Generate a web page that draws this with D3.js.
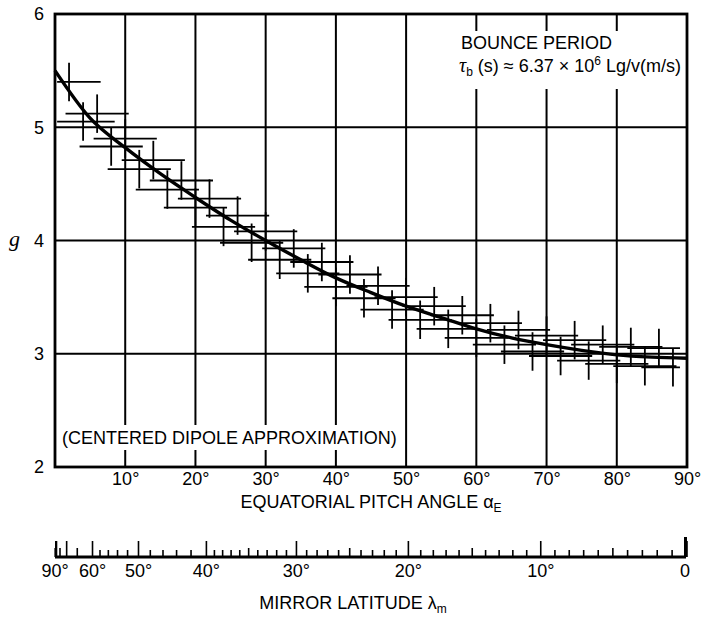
<!DOCTYPE html>
<html lang="en">
<head>
  <meta charset="UTF-8">
  <title>Bounce period factor g vs equatorial pitch angle</title>
  <style>
    body { margin: 0; background: #fff; }
    svg { display: block; font-family: "Liberation Sans", Arial, sans-serif; }
  </style>
</head>
<body>
  <svg id="chart"></svg>
  <script src="https://cdn.jsdelivr.net/npm/d3@7/dist/d3.min.js"></script>
  <script>
    var w = 701, h = 618;
    var plotL = 55, plotR = 687, plotT = 14, plotB = 467;

    var curveAlpha = [0, 5, 10, 15, 20, 25, 30, 35, 40, 45, 50, 55, 60, 65, 70, 75, 80, 85, 90];
    var curveG = [5.50, 5.08, 4.82, 4.59, 4.38, 4.18, 4.00, 3.83, 3.67, 3.54, 3.42, 3.32, 3.22, 3.14, 3.08, 3.03, 2.99, 2.97, 2.96];

    // the crosses (computed points with their spreads)
    var crossAlpha = [2, 4, 6, 8, 10, 12, 14, 16, 18, 20, 22, 24, 26, 28, 30, 32, 34, 36, 38, 40, 42, 44,
                      46, 48, 50, 52, 54, 56, 58, 60, 62, 64, 66, 68, 70, 72, 74, 76, 78, 80, 82, 84, 86, 88];
    var crossG = [5.40, 5.05, 5.12, 4.83, 4.90, 4.63, 4.71, 4.45, 4.53, 4.29, 4.37, 4.12, 4.22, 3.98, 4.08, 3.83,
                  3.93, 3.71, 3.81, 3.59, 3.70, 3.49, 3.60, 3.39, 3.50, 3.30, 3.42, 3.22, 3.34, 3.14, 3.27, 3.08,
                  3.21, 3.02, 3.16, 2.98, 3.12, 2.94, 3.08, 2.91, 3.06, 2.89, 3.05, 2.88];

    var gTicks = [2, 3, 4, 5, 6];
    var pitchTicks = [10, 20, 30, 40, 50, 60, 70, 80, 90];
    var latLabels = [90, 60, 50, 40, 30, 20, 10, 0];

    var svg = d3.select("#chart").attr("width", w).attr("height", h);

    var x = d3.scaleLinear().domain([0, 90]).range([plotL, plotR]);
    var y = d3.scaleLinear().domain([2, 6]).range([plotB, plotT]);

    // dipole field: mirror latitude -> equatorial pitch angle
    var rad = Math.PI / 180;
    function mirrorToPitch(lam) {
      var c = Math.cos(lam * rad), s = Math.sin(lam * rad);
      var s2 = Math.pow(c, 6) / Math.sqrt(1 + 3 * s * s);
      return Math.asin(Math.sqrt(s2)) / rad;
    }

    // grid
    svg.append("g").selectAll("line")
      .data(pitchTicks.slice(0, -1))
      .enter().append("line")
      .attr("x1", d => x(d)).attr("x2", d => x(d))
      .attr("y1", plotT).attr("y2", plotB)
      .attr("stroke", "#000").attr("stroke-width", 2);

    svg.append("g").selectAll("line")
      .data(gTicks.slice(1, -1))
      .enter().append("line")
      .attr("x1", plotL).attr("x2", plotR)
      .attr("y1", d => y(d)).attr("y2", d => y(d))
      .attr("stroke", "#000").attr("stroke-width", 2);

    // white boxes under the notes
    svg.append("rect").attr("x", 452).attr("y", 31).attr("width", 233).attr("height", 58).attr("fill", "#fff");
    svg.append("rect").attr("x", 58).attr("y", 425).attr("width", 345).attr("height", 25).attr("fill", "#fff");

    // crosses
    var crosses = svg.append("g").attr("stroke", "#000").attr("stroke-width", 1.8);
    crossAlpha.forEach(function(a, i) {
      var g = crossG[i];
      crosses.append("line")
        .attr("x1", x(Math.max(0.3, a - 4.5))).attr("x2", x(Math.min(89, a + 4.5)))
        .attr("y1", y(g)).attr("y2", y(g));
      crosses.append("line")
        .attr("x1", x(a)).attr("x2", x(a))
        .attr("y1", y(g + 0.17)).attr("y2", y(g - 0.17));
    });

    // curve
    var line = d3.line()
      .x((d, i) => x(curveAlpha[i]))
      .y(d => y(d))
      .curve(d3.curveMonotoneX);

    svg.append("path")
      .attr("d", line(curveG))
      .attr("fill", "none")
      .attr("stroke", "#000")
      .attr("stroke-width", 3.4);

    // frame
    svg.append("rect")
      .attr("x", plotL).attr("y", plotT)
      .attr("width", plotR - plotL).attr("height", plotB - plotT)
      .attr("fill", "none").attr("stroke", "#000").attr("stroke-width", 2.8);

    // axes labels
    var yAxis = svg.append("g")
      .attr("transform", "translate(" + plotL + ",0)")
      .call(d3.axisLeft(y).tickValues(gTicks).tickFormat(d3.format("d")).tickSize(0).tickPadding(11));
    var xAxis = svg.append("g")
      .attr("transform", "translate(0," + plotB + ")")
      .call(d3.axisBottom(x).tickValues(pitchTicks).tickFormat(d => d + "°").tickSize(0).tickPadding(5));
    [yAxis, xAxis].forEach(function(a) {
      a.select(".domain").remove();
      a.selectAll("text").attr("font-size", 18).attr("font-family", "Liberation Sans, Arial, sans-serif").attr("fill", "#000");
    });

    svg.append("text")
      .attr("x", 9).attr("y", y(4) + 5)
      .attr("font-family", "Liberation Serif, serif")
      .attr("font-style", "italic")
      .attr("font-size", 22)
      .text("g");

    svg.append("text")
      .attr("x", 371).attr("y", 508)
      .attr("text-anchor", "middle")
      .attr("font-size", 18)
      .call(t => {
        t.append("tspan").text("EQUATORIAL PITCH ANGLE α");
        t.append("tspan").attr("font-size", 12).attr("dy", 4).text("E");
      });

    // notes
    svg.append("text").attr("x", 461).attr("y", 49).attr("font-size", 18).text("BOUNCE PERIOD");
    var formula = svg.append("text").attr("x", 459).attr("y", 72).attr("font-size", 18);
    formula.append("tspan").attr("font-family", "Liberation Serif, serif").attr("font-style", "italic").attr("font-size", 20).text("τ");
    formula.append("tspan").attr("font-size", 12).attr("dy", 4).text("b");
    formula.append("tspan").attr("dy", -4).text(" (s) ≈ 6.37 × 10");
    formula.append("tspan").attr("font-size", 12).attr("dy", -7).text("6");
    formula.append("tspan").attr("dy", 7).text(" Lg/v(m/s)");

    svg.append("text").attr("x", 62).attr("y", 444).attr("font-size", 18).text("(CENTERED DIPOLE APPROXIMATION)");

    // mirror latitude scale
    var axisY = 557;
    var minorLat = d3.range(0, 40, 1).concat(d3.range(40, 60, 2), d3.range(60, 90, 5));
    var mirror = svg.append("g").attr("stroke", "#000");
    mirror.selectAll(".minor")
      .data(minorLat)
      .enter().append("line")
      .attr("x1", d => x(mirrorToPitch(d))).attr("x2", d => x(mirrorToPitch(d)))
      .attr("y1", axisY)
      .attr("y2", d => axisY - (d % 10 === 0 ? 16 : d % 5 === 0 ? 9 : 7))
      .attr("stroke-width", 1.6);
    mirror.append("line")
      .attr("x1", x(0)).attr("x2", x(90) - 1)
      .attr("y1", axisY).attr("y2", axisY)
      .attr("stroke-width", 3);
    mirror.append("line")
      .attr("x1", x(90) - 1.5).attr("x2", x(90) - 1.5)
      .attr("y1", axisY).attr("y2", axisY - 20)
      .attr("stroke-width", 3);
    mirror.append("line")
      .attr("x1", x(0) + 1).attr("x2", x(0) + 1)
      .attr("y1", axisY).attr("y2", axisY - 16)
      .attr("stroke-width", 2);

    svg.append("g").selectAll("text")
      .data(latLabels)
      .enter().append("text")
      .attr("x", d => x(mirrorToPitch(d)) + (d === 0 ? -2 : 0))
      .attr("y", 577)
      .attr("text-anchor", "middle")
      .attr("font-size", 18)
      .text(d => d === 0 ? "0" : d + "°");

    svg.append("text")
      .attr("x", 353).attr("y", 609)
      .attr("text-anchor", "middle")
      .attr("font-size", 18)
      .call(t => {
        t.append("tspan").text("MIRROR LATITUDE λ");
        t.append("tspan").attr("font-size", 12).attr("dy", 4).text("m");
      });
  </script>
</body>
</html>
